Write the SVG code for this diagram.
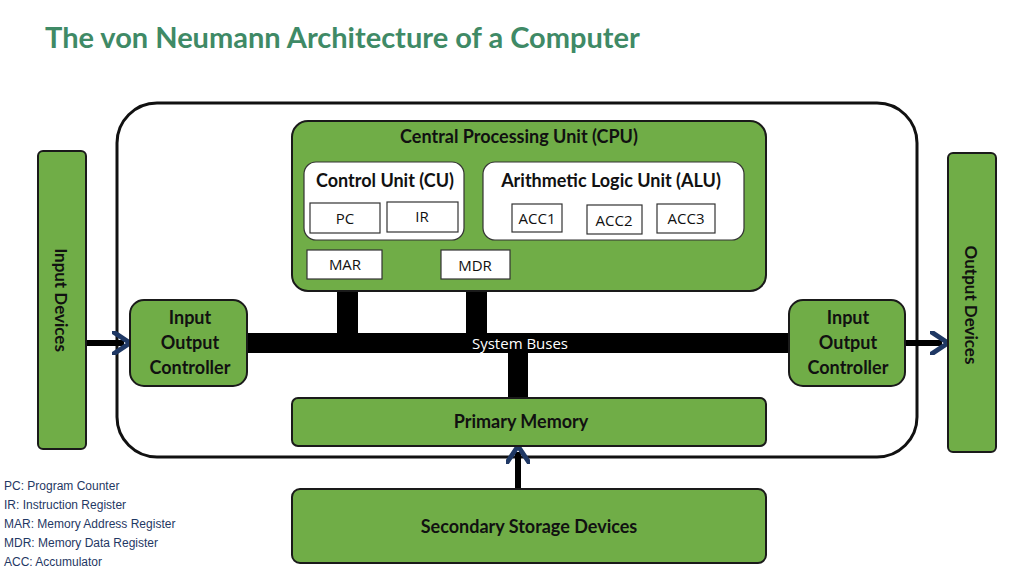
<svg xmlns="http://www.w3.org/2000/svg" width="1024" height="576" viewBox="0 0 1024 576">
<style>
.g{fill:#70ad47;stroke:#1a1a1a;stroke-width:2}
.w{fill:#fff;stroke:#333;stroke-width:1.2}
.t{font-family:Lato,"Open Sans",sans-serif;font-weight:bold;font-size:18px;fill:#111;text-anchor:middle}
.r{font-family:"Open Sans",sans-serif;font-size:15px;fill:#111;text-anchor:middle}
.l{font-family:"Liberation Sans",Arial,sans-serif;font-size:12px;fill:#1f3864}
.c{stroke:#111;stroke-width:1.2;fill:none}
</style>
<defs>
<marker id="a" markerWidth="6" markerHeight="6" refX="5" refY="3" orient="auto-start-reverse" markerUnits="userSpaceOnUse"><path d="M0,0 L6,3 L0,6z" fill="#111"/></marker>
<marker id="b" markerWidth="4" markerHeight="4" refX="2" refY="2" orient="auto"><path d="M0,0 L3,2 L0,4" fill="none" stroke="#1f3864" stroke-width="0.8"/></marker>
</defs>
<text x="45" y="48" style="font-family:Lato,'Open Sans',sans-serif;font-weight:bold;font-size:29px;fill:#3f8a66">The von Neumann Architecture of a Computer</text>
<rect x="117" y="103" width="800" height="354" rx="40" fill="#fff" stroke="#111" stroke-width="3"/>
<g id="connectors">
<rect x="248" y="333" width="540" height="20" fill="#000"/>
<rect x="337" y="279" width="21" height="54" fill="#000"/>
<rect x="466" y="279" width="21" height="54" fill="#000"/>
<rect x="508" y="353" width="20" height="45" fill="#000"/>
<line x1="86" y1="343" x2="124" y2="343" stroke="#000" stroke-width="6" marker-end="url(#b)"/>
<line x1="905" y1="343" x2="942" y2="343" stroke="#000" stroke-width="6" marker-end="url(#b)"/>
<line x1="518" y1="489" x2="518" y2="452" stroke="#000" stroke-width="6" marker-end="url(#b)"/>
<line x1="345" y1="235" x2="345" y2="248" class="c" marker-start="url(#a)" marker-end="url(#a)"/>
<path d="M441,264 H423 V235" class="c" marker-end="url(#a)"/>
<path d="M687,235 V264 H512" class="c" marker-start="url(#a)" marker-end="url(#a)"/>
<path d="M540,234 V264" class="c" marker-start="url(#a)"/>
<path d="M615,236 V264" class="c" marker-start="url(#a)"/>
</g>
<text x="520" y="349" class="r" style="fill:#fff">System Buses</text>
<g id="cpu"><rect x="292" y="121" width="474" height="170" rx="16" class="g"/><text x="519" y="143" class="t">Central Processing Unit (CPU)</text></g>
<g id="cu"><rect x="304" y="162" width="160" height="78" rx="12" class="w"/><text x="385" y="187" class="t">Control Unit (CU)</text></g>
<g id="alu"><rect x="483" y="162" width="261" height="78" rx="12" class="w"/><text x="611" y="187" class="t">Arithmetic Logic  Unit (ALU)</text></g>
<g id="pc"><rect x="310" y="203" width="70" height="30" class="w"/><text x="345" y="224" class="r">PC</text></g>
<g id="ir"><rect x="387" y="202" width="71" height="30" class="w"/><text x="422" y="222" class="r">IR</text></g>
<g id="acc1"><rect x="512" y="204" width="50" height="28" class="w"/><text x="537" y="224" class="r">ACC1</text></g>
<g id="acc2"><rect x="587" y="205" width="55" height="29" class="w"/><text x="614" y="226" class="r">ACC2</text></g>
<g id="acc3"><rect x="657" y="204" width="58" height="29" class="w"/><text x="686" y="224" class="r">ACC3</text></g>
<g id="mar"><rect x="307" y="250" width="75" height="29" class="w"/><text x="345" y="270" class="r">MAR</text></g>
<g id="mdr"><rect x="441" y="250" width="69" height="29" class="w"/><text x="475" y="271" class="r">MDR</text></g>
<g id="primary"><rect x="292" y="398" width="474" height="48" rx="6" class="g"/><text x="521" y="428" class="t">Primary Memory</text></g>
<g id="secondary"><rect x="292" y="489" width="474" height="74" rx="8" class="g"/><text x="529" y="533" class="t">Secondary Storage Devices</text></g>
<g id="ioc-left"><rect x="130" y="300" width="117" height="86" rx="14" class="g"/><text x="190" y="324" class="t">Input</text><text x="190" y="349" class="t">Output</text><text x="190" y="374" class="t">Controller</text></g>
<g id="ioc-right"><rect x="789" y="300" width="116" height="86" rx="14" class="g"/><text x="848" y="324" class="t">Input</text><text x="848" y="349" class="t">Output</text><text x="848" y="374" class="t">Controller</text></g>
<g id="input"><rect x="38" y="151" width="48" height="298" rx="5" class="g"/><text transform="translate(55,300) rotate(90)" class="t" style="font-size:17px">Input Devices</text></g>
<g id="output"><rect x="948" y="153" width="48" height="299" rx="5" class="g"/><text transform="translate(965,305) rotate(90)" class="t" style="font-size:17px">Output Devices</text></g>
<g id="legend">
<text x="4" y="490" class="l">PC: Program Counter</text>
<text x="4" y="509" class="l">IR: Instruction Register</text>
<text x="4" y="528" class="l">MAR: Memory Address Register</text>
<text x="4" y="547" class="l">MDR: Memory Data Register</text>
<text x="4" y="566" class="l">ACC: Accumulator</text>
</g>
</svg>
